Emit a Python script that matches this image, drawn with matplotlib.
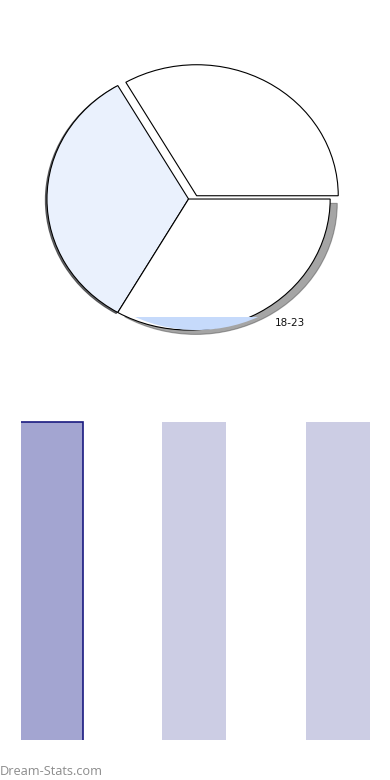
import matplotlib
matplotlib.use('Agg')
import matplotlib.pyplot as plt
from matplotlib.patches import Shadow, Rectangle

# pie data
pie_values = [1, 1, 1]
pie_labels = ['', '', '18-23']
pie_colors = ['white', '#EAF1FD', 'white']

# bar data
bar_cats = ['A', 'B', 'C']
bar_values = [1, 1, 1]
bar_colors = ['#A3A5D1', '#CCCDE4', '#CCCDE4']

fig = plt.figure(figsize=(3.9, 7.8), dpi=100)

# pie (ellipse because aspect is auto)
ax1 = fig.add_axes([0.0115, 0.5265, 0.944, 0.4367])
wedges, texts = ax1.pie(pie_values, labels=pie_labels, colors=pie_colors,
                        startangle=0, counterclock=True, labeldistance=1.1,
                        shadow={'ox': 0.036, 'oy': -0.024},
                        wedgeprops={'edgecolor': 'black', 'linewidth': 0.8},
                        textprops={'fontsize': 7.5, 'color': '#111111'})
# first slice pulled out, mostly sideways
wedges[0].set_center((0.057, 0.025))
for p in list(ax1.patches):
    if isinstance(p, Shadow) and p.patch is not wedges[2]:
        p.remove()
sh = Shadow(wedges[1], -0.008, -0.006, shade=0.8, alpha=0.7)
sh.set_zorder(0.9)
ax1.add_patch(sh)
texts[2].set_position((0.61, -0.945))
texts[2].set_va('center')

# pale blue band at the bottom
band, _ = ax1.pie(pie_values, colors=['none', '#C6DAFB', '#C6DAFB'],
                  startangle=0, center=(0.057, 0),
                  wedgeprops={'linewidth': 0})
clip = Rectangle((-1.5, -1.5), 3, 0.6, transform=ax1.transData)
for w in band:
    w.set_clip_on(True)
    w.set_clip_path(clip)
    w.set_zorder(1.5)
ax1.set_aspect('auto')
ax1.set_xlim(-1.3, 1.3)
ax1.set_ylim(-1.3, 1.3)
ax1.axis('off')

# bars (left/bottom outline of the first bar is clipped away by the axes)
ax2 = fig.add_axes([0.0531, 0.0513, 0.8956, 0.409])
x = range(len(bar_cats))
w = 0.446
ax2.bar(x, bar_values, width=w, color=bar_colors, linewidth=0)
ax2.bar([0], bar_values[:1], width=w, color='none', edgecolor='#1A1A80', linewidth=1.2)
ax2.set_xlim(-w / 2 + 0.012, 2 + w / 2)
ax2.set_ylim(0.006, max(bar_values) * 1.0025)
ax2.axis('off')

fig.text(0.0, 0.002, 'Dream-Stats.com', fontsize=9.2, color='#8C8C8C',
         family='Open Sans', ha='left', va='bottom')

fig.savefig('out.png', dpi=100)
